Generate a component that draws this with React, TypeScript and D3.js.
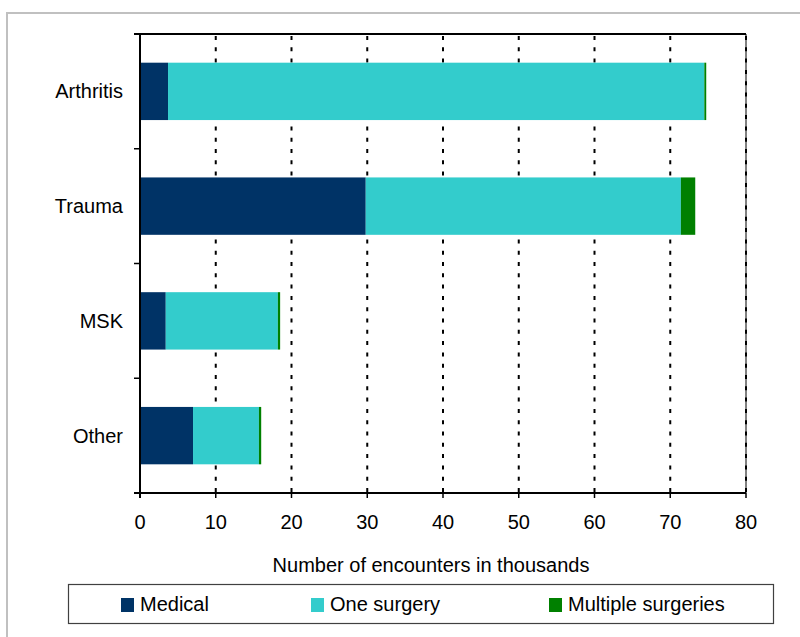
import React from "react";
import * as d3 from "d3";

const categories = ["Arthritis", "Trauma", "MSK", "Other"];
const seriesNames = ["Medical", "One surgery", "Multiple surgeries"];
const medical = [3.7, 29.8, 3.4, 7.0];
const oneSurgery = [70.8, 41.6, 14.8, 8.7];
const multipleSurgeries = [0.25, 1.9, 0.3, 0.3];
const xTicks = [0, 10, 20, 30, 40, 50, 60, 70, 80];
const colors = ["#003366", "#33CCCC", "#008000"];
const axisTitle = "Number of encounters in thousands";

const FONT = "'Liberation Sans', Arial, sans-serif";

export default function App() {
  const left = 140, right = 746, top = 34, bottom = 493;
  const x = d3.scaleLinear().domain([0, 80]).range([left, right]);
  const y = d3.scaleBand<string>().domain(categories).range([top, bottom]).paddingInner(0.5).paddingOuter(0.25);
  const step = y.step();

  const rows = categories.map((c, i) => ({
    cat: c,
    Medical: medical[i],
    "One surgery": oneSurgery[i],
    "Multiple surgeries": multipleSurgeries[i],
  }));
  const stack = d3.stack<any>().keys(seriesNames)(rows);

  const boundaries = d3.range(categories.length + 1).map((i) => top + i * step);

  const legendItems = [
    { name: seriesNames[0], sx: 121, tx: 140 },
    { name: seriesNames[1], sx: 311, tx: 330 },
    { name: seriesNames[2], sx: 549, tx: 568 },
  ];

  return (
    <svg width={800} height={637} style={{ position: "absolute", left: 0, top: 0, background: "#fff" }} fontFamily={FONT}>
      <rect x={0} y={0} width={800} height={637} fill="#fff" />
      <rect x={7} y={13} width={900} height={700} fill="none" stroke="#c0c0c0" strokeWidth={2} />

      {/* gridlines */}
      {xTicks.filter((t) => t > 0).map((t) => (
        <g key={"g" + t}>
          {t === 80 && <line x1={x(t)} x2={x(t)} y1={top} y2={bottom} stroke="#808080" strokeWidth={2} />}
          <line x1={x(t)} x2={x(t)} y1={top + 2} y2={bottom} stroke="#000" strokeWidth={2} strokeDasharray="4,7.3" />
        </g>
      ))}

      {/* bars */}
      {stack.map((s, si) => (
        <g key={s.key} fill={colors[si]}>
          {s.map((d, i) => (
            <rect key={i} x={x(d[0])} y={y(categories[i])} width={Math.max(0, x(d[1]) - x(d[0]))} height={y.bandwidth()} />
          ))}
        </g>
      ))}

      {/* top border */}
      <line x1={left - 6} x2={right} y1={top} y2={top} stroke="#000" strokeWidth={2} />
      {/* y axis */}
      <line x1={left} x2={left} y1={top} y2={bottom + 5} stroke="#000" strokeWidth={2} />
      {boundaries.map((b, i) => (
        <line key={"yt" + i} x1={left - 6} x2={left} y1={b} y2={b} stroke="#000" strokeWidth={1.5} />
      ))}
      {/* x axis */}
      <line x1={left - 6} x2={right} y1={bottom} y2={bottom} stroke="#000" strokeWidth={2} />
      {xTicks.map((t) => (
        <line key={"xt" + t} x1={x(t)} x2={x(t)} y1={bottom} y2={bottom + 5} stroke="#000" strokeWidth={1.5} />
      ))}
      {xTicks.map((t) => (
        <text key={"xl" + t} x={x(t)} y={529} textAnchor="middle" fontSize={20} fill="#000">{t}</text>
      ))}
      <text x={431} y={572} textAnchor="middle" fontSize={20} fill="#000">{axisTitle}</text>

      {categories.map((c) => (
        <text key={c} x={123} y={(y(c) as number) + y.bandwidth() / 2 + 7} textAnchor="end" fontSize={20} fill="#000">{c}</text>
      ))}

      {/* legend */}
      <rect x={68.5} y={584.5} width={705} height={39} fill="#fff" stroke="#404040" strokeWidth={1.2} />
      {legendItems.map((it, i) => (
        <g key={it.name}>
          <rect x={it.sx} y={598} width={13} height={14} fill={colors[i]} />
          <text x={it.tx} y={611} fontSize={20} fill="#000">{it.name}</text>
        </g>
      ))}
    </svg>
  );
}
